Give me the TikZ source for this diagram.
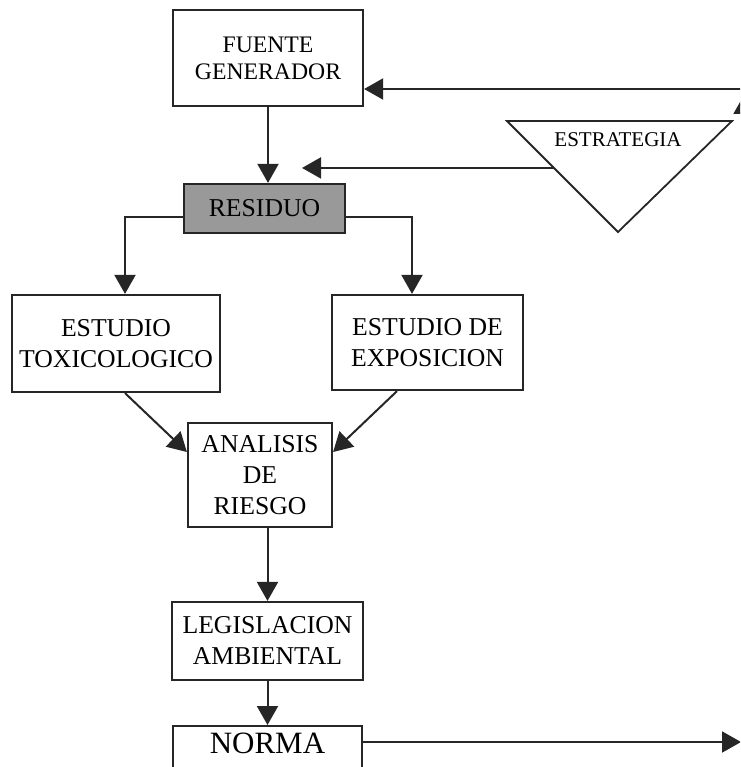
\documentclass[tikz,border=0pt]{standalone}
\usepackage{fontspec}
\setmainfont{Liberation Serif}
\usetikzlibrary{arrows.meta}

\begin{document}
\begin{tikzpicture}[x=1pt,y=-1pt,
    box/.style={draw=black!85, line width=2.2pt, fill=white, align=center, inner sep=0pt,
      font=\fontsize{25.7}{31}\selectfont},
    link/.style={draw=black!85, line width=2pt, -{Triangle[length=19pt,width=21pt]}}]
    \useasboundingbox (0,0) rectangle (740,767);
    \clip (0,0) rectangle (740,767);
    % main column of boxes
    \node[box, minimum width=190pt, minimum height=96pt, font=\fontsize{23.7}{27}\selectfont]
      (fuente) at (268,58) {FUENTE\\GENERADOR};
    \node[box, fill=black!40, minimum width=161pt, minimum height=49pt]
      (residuo) at (264.5,208.5) {RESIDUO};
    \node[box, minimum width=208pt, minimum height=97pt]
      (tox) at (116,343.5) {ESTUDIO\\TOXICOLOGICO};
    \node[box, minimum width=191pt, minimum height=95pt]
      (expo) at (427.5,342.5) {ESTUDIO DE\\EXPOSICION};
    \node[box, minimum width=144pt, minimum height=104pt]
      (analisis) at (260,475) {ANALISIS\\DE\\RIESGO};
    \node[box, minimum width=191pt, minimum height=78pt]
      (legis) at (267.5,641) {LEGISLACION\\AMBIENTAL};
    % last box runs past the lower edge
    \node[box, anchor=north, minimum width=189pt, inner ysep=6.5pt, text depth=45pt,
      font=\fontsize{31}{36}\selectfont] (norma) at (267.5,725) {NORMA};
    % strategy triangle on the right
    \coordinate (tl) at (507,121);
    \coordinate (tr) at (732,121);
    \coordinate (tb) at (618,232);
    \draw[black!85, line width=1.8pt] (tl) -- (tr) -- (tb) -- cycle;
    \node[font=\fontsize{21}{25}\selectfont] (estrategia) at (618,140) {ESTRATEGIA};
    \path (tl) -- (tb) coordinate[pos=0.423] (tin);
    \coordinate (stip) at (302,0);
    \draw[link] (tin) -- (tin -| stip);
    % feedback coming in from the right edge
    \coordinate (rtop) at (745,89);
    \draw[link] (rtop) -- (rtop -| fuente.east);
    \coordinate (rlow) at (744,150);
    \coordinate (rup) at (744,95);
    \draw[link] (rlow) -- (rup);
    % flow through the column
    \draw[link] (fuente.south) -- (fuente.south |- residuo.north);
    \draw[link] ([yshift=-8pt]residuo.west) -| ([xshift=9pt]tox.north);
    \draw[link] ([yshift=-8pt]residuo.east) -| ([xshift=-15.5pt]expo.north);
    \draw[link] ([xshift=9pt]tox.south) -- ([yshift=23pt]analisis.west);
    \draw[link] ([xshift=-30.5pt]expo.south) -- ([yshift=23pt]analisis.east);
    \draw[link] (legis.north |- analisis.south) -- (legis.north);
    \draw[link] (legis.south) -- (norma.north);
    \coordinate (nout) at (741,742);
    \draw[link] (nout -| norma.east) -- (nout);
  \end{tikzpicture}
\end{document}
